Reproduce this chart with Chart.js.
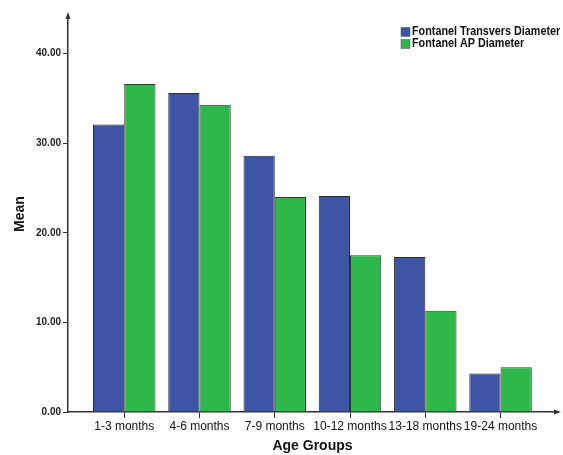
<!DOCTYPE html>
<html lang="en">
<head>
  <meta charset="UTF-8" />
  <title>Fontanel diameters by age group</title>
  <style>
    * { margin: 0; padding: 0; }
    body { background: #fff; }
    .chartBox { width: 563px; height: 455px; }
  </style>
</head>
<body>
  <div class="chartBox">
    <canvas id="myChart" width="563" height="455"></canvas>
  </div>
  <script src="https://cdn.jsdelivr.net/npm/chart.js@4.4.0/dist/chart.umd.min.js"></script>
  <script>
    const categories = ["1-3 months", "4-6 months", "7-9 months", "10-12 months", "13-18 months", "19-24 months"];
    const transversDiameter = [32.1, 35.6, 28.6, 24.1, 17.3, 4.3];
    const apDiameter = [36.6, 34.3, 24.0, 17.5, 11.3, 5.0];
    const yTicks = [0, 10, 20, 30, 40];

    const FONT = "'Liberation Sans', Arial, sans-serif";
    const blue = "rgb(62, 85, 166)";
    const green = "rgb(46, 184, 74)";
    const axisColor = "#333";

    // legend drawn at top right, stacked, slightly condensed
    const legendPlugin = {
      id: "stackLegend",
      afterDraw(chart) {
        const ctx = chart.ctx;
        chart.data.datasets.forEach((ds, i) => {
          const y = 32 + i * 12;
          ctx.save();
          ctx.fillStyle = ds.backgroundColor;
          ctx.fillRect(401, y - 4.5, 9, 9);
          ctx.strokeStyle = "#555";
          ctx.lineWidth = 0.5;
          ctx.strokeRect(401, y - 4.5, 9, 9);
          ctx.translate(412, y);
          ctx.scale(0.9, 1);
          ctx.font = "bold 12px " + FONT;
          ctx.textBaseline = "middle";
          ctx.fillStyle = "#111";
          ctx.fillText(ds.label, 0, 0);
          ctx.restore();
        });
      }
    };

    // arrow heads on both axes
    const arrowPlugin = {
      id: "axisArrows",
      afterDraw(chart) {
        const { ctx, chartArea } = chart;
        ctx.save();
        ctx.fillStyle = axisColor;
        ctx.beginPath();
        ctx.moveTo(chartArea.left, chartArea.top - 4);
        ctx.lineTo(chartArea.left - 2.5, chartArea.top + 3);
        ctx.lineTo(chartArea.left + 2.5, chartArea.top + 3);
        ctx.fill();
        ctx.beginPath();
        ctx.moveTo(chartArea.right + 4, chartArea.bottom);
        ctx.lineTo(chartArea.right - 3, chartArea.bottom - 2.5);
        ctx.lineTo(chartArea.right - 3, chartArea.bottom + 2.5);
        ctx.fill();
        ctx.restore();
      }
    };

    const data = {
      datasets: [
        {
          label: "Fontanel Transvers Diameter",
          data: transversDiameter.map((v, i) => ({ x: i, y: v })),
          backgroundColor: blue,
          borderColor: "#2a2a3a",
          borderWidth: 1,
          categoryPercentage: 0.83,
          barPercentage: 1,
        },
        {
          label: "Fontanel AP Diameter",
          data: apDiameter.map((v, i) => ({ x: i, y: v })),
          backgroundColor: green,
          borderColor: "#2a3a2a",
          borderWidth: 1,
          categoryPercentage: 0.83,
          barPercentage: 1,
        },
      ],
    };

    const options = {
      responsive: false,
      animation: false,
      layout: { padding: { left: 0, top: 16, right: 6, bottom: 0 } },
      scales: {
        x: {
          type: "linear",
          offset: false,
          min: -0.747,
          max: 5.75,
          grid: { offset: false, drawOnChartArea: false, tickLength: 6, color: axisColor },
          border: { color: axisColor, width: 1.5 },
          ticks: {
            padding: 1,
            autoSkip: false,
            color: "#111",
            font: { family: FONT, size: 12 },
            maxRotation: 0,
            callback: (v) => categories[v],
          },
          afterBuildTicks: (scale) => {
            scale.ticks = categories.map((c, i) => ({ value: i }));
          },
          afterFit: (scale) => { scale.height = 43; },
          title: {
            display: true,
            text: "Age Groups",
            color: "#111",
            font: { family: FONT, size: 14, weight: "bold" },
            padding: { top: 0, bottom: 0 },
          },
        },
        y: {
          min: 0,
          max: 44.2,
          grid: { drawOnChartArea: false, tickLength: 5, color: axisColor },
          border: { color: axisColor, width: 1.5 },
          ticks: {
            padding: 2,
            color: "#222",
            font: { family: FONT, size: 10, weight: "bold" },
            callback: (v) => v.toFixed(2),
          },
          afterBuildTicks: (scale) => {
            scale.ticks = yTicks.map((v) => ({ value: v }));
          },
          afterFit: (scale) => { scale.width = 68; },
          title: {
            display: true,
            text: "Mean",
            color: "#111",
            font: { family: FONT, size: 14, weight: "bold" },
            padding: { top: 12, bottom: 0 },
          },
        },
      },
      plugins: {
        legend: { display: false },
        tooltip: { enabled: false },
      },
    };

    const config = {
      type: "bar",
      data: data,
      options: options,
      plugins: [legendPlugin, arrowPlugin],
    };

    const ctx = document.getElementById("myChart").getContext("2d");
    const myChart = new Chart(ctx, config);
  </script>
</body>
</html>
